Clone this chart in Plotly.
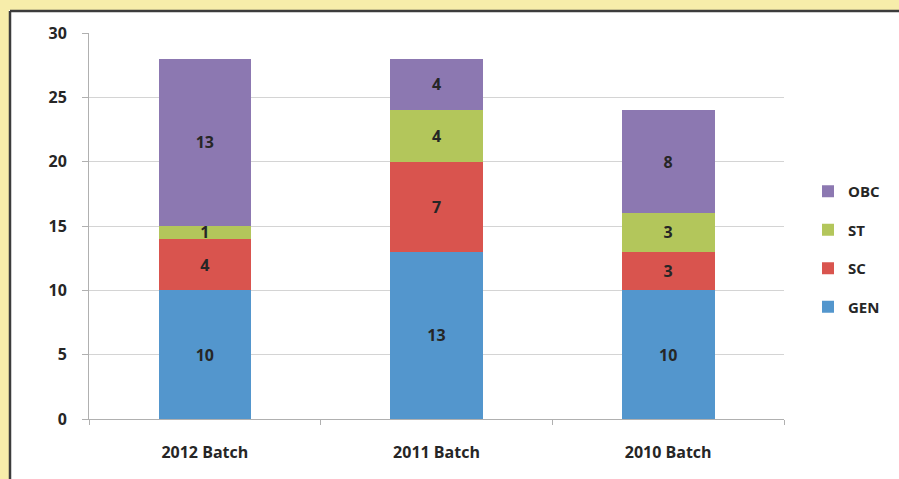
import plotly.graph_objects as go

categories = ["2012 Batch", "2011 Batch", "2010 Batch"]
gen = [10, 13, 10]
sc = [4, 7, 3]
st = [1, 4, 3]
obc = [13, 4, 8]
series_names = ["GEN", "SC", "ST", "OBC"]
series_values = [gen, sc, st, obc]
series_colors = ["#5396CD", "#D9544E", "#B3C65B", "#8C78B1"]
legend_ranks = [4, 3, 2, 1]

FONT = "Open Sans"

fig = go.Figure()
for name, vals, col, rk in zip(series_names, series_values, series_colors, legend_ranks):
    fig.add_trace(go.Bar(
        x=categories, y=vals, name=name, marker=dict(color=col, line=dict(width=0)),
        text=vals, texttemplate="%{text}", textposition="inside",
        insidetextanchor="middle", textangle=0,
        textfont=dict(family=FONT, size=16, color="#262626", weight="bold"),
        legendgroup=name, legendrank=rk,
    ))

L, R, T, B = 89, 115, 33, 60
W, H = 899, 479
pw, ph = W - L - R, H - T - B

def px_x(p):
    return (p - L) / pw

def px_y(p):
    return (H - B - p) / ph

YELLOW = "#F7EDAA"
BORDER = "#3c3c3c"
# yellow frame strips (top and left) and dark border lines
fig.add_shape(type="rect", xref="paper", yref="paper",
              x0=px_x(0), x1=px_x(9), y0=px_y(W), y1=px_y(0),
              fillcolor=YELLOW, line=dict(width=0), layer="below")
fig.add_shape(type="rect", xref="paper", yref="paper",
              x0=px_x(0), x1=px_x(W), y0=px_y(10), y1=px_y(0),
              fillcolor=YELLOW, line=dict(width=0), layer="below")
fig.add_shape(type="line", xref="paper", yref="paper",
              x0=px_x(10), x1=px_x(W), y0=px_y(11), y1=px_y(11),
              line=dict(color=BORDER, width=2.5), layer="below")
fig.add_shape(type="line", xref="paper", yref="paper",
              x0=px_x(10), x1=px_x(10), y0=px_y(11), y1=px_y(H),
              line=dict(color=BORDER, width=2.5), layer="below")

fig.update_layout(
    width=W, height=H,
    margin=dict(l=L, r=R, t=T, b=B, pad=0, autoexpand=False),
    paper_bgcolor="white", plot_bgcolor="rgba(0,0,0,0)",
    barmode="stack", bargap=0.6,
    uniformtext=dict(minsize=15, mode="show"),
    showlegend=True,
    legend=dict(x=px_x(808), y=px_y(249), xanchor="left", yanchor="middle",
                traceorder="grouped", tracegroupgap=16,
                font=dict(family=FONT, size=15, color="#262626", weight="bold"),
                bgcolor="rgba(0,0,0,0)", itemwidth=30),
    font=dict(family=FONT),
)
fig.update_yaxes(range=[0, 30], dtick=5, showgrid=True, gridcolor="#D4D4D4", gridwidth=1,
                 showline=True, linecolor="#B0B0B0", linewidth=1,
                 ticks="outside", ticklen=6, tickcolor="#B0B0B0",
                 ticklabelstandoff=12,
                 tickfont=dict(family=FONT, size=16, color="#262626", weight="bold"),
                 zeroline=False)
fig.update_xaxes(showline=True, linecolor="#B0B0B0", linewidth=1,
                 ticks="outside", ticklen=5, tickcolor="#B0B0B0", tickson="boundaries",
                 ticklabelstandoff=19,
                 tickfont=dict(family=FONT, size=16, color="#262626", weight="bold"),
                 showgrid=False)

fig.write_html("out.html", config={"displayModeBar": False},
               post_script="document.body.style.margin='0';document.body.style.overflow='hidden';")
